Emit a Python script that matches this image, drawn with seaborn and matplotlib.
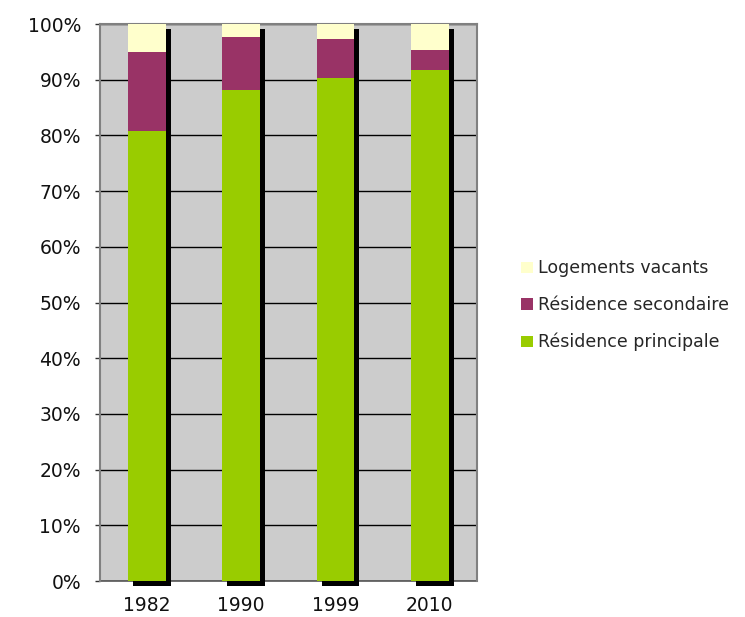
import numpy as np
import pandas as pd
import matplotlib
matplotlib.use("Agg")
import matplotlib.pyplot as plt
import matplotlib.transforms as mtransforms
from matplotlib.patches import Patch
import seaborn as sns

# Housing composition by census year (share of total dwellings, %)
years = ["1982", "1990", "1999", "2010"]
principale = [80.8, 88.1, 90.3, 91.7]
secondaire = [14.2, 9.5, 7.0, 3.6]
vacants = [5.0, 2.4, 2.7, 4.7]

labels = ["Logements vacants", "Résidence secondaire", "Résidence principale"]
colors = {"Résidence principale": "#99CC00",
          "Résidence secondaire": "#993366",
          "Logements vacants": "#FFFFCC"}

sns.set_theme(style="white")
plt.rcParams["font.family"] = ["DejaVu Sans"]

df = pd.DataFrame({"annee": years,
                   "principale": principale,
                   "secondaire": secondaire,
                   "vacants": vacants})
df["cum_sec"] = df["principale"] + df["secondaire"]
df["total"] = df["cum_sec"] + df["vacants"]

fig = plt.figure(figsize=(7.45, 6.17), dpi=100)
ax = fig.add_axes([0.134, 0.0583, 0.506, 0.9027])
ax.set_facecolor("#CCCCCC")

bw = 0.4
# drop shadow behind each stacked column
shadow_tr = mtransforms.offset_copy(ax.transData, fig=fig, x=5, y=-5, units="dots")
sns.barplot(data=df, x="annee", y="total", color="black", width=bw,
            saturation=1, ax=ax, linewidth=0, zorder=2)
for p in ax.patches:
    p.set_transform(shadow_tr)
    p.set_clip_on(False)

sns.barplot(data=df, x="annee", y="total", color=colors["Logements vacants"],
            width=bw, saturation=1, ax=ax, linewidth=0, zorder=3)
sns.barplot(data=df, x="annee", y="cum_sec", color=colors["Résidence secondaire"],
            width=bw, saturation=1, ax=ax, linewidth=0, zorder=4)
sns.barplot(data=df, x="annee", y="principale", color=colors["Résidence principale"],
            width=bw, saturation=1, ax=ax, linewidth=0, zorder=5)

ax.set_xlim(-0.5, 3.5)
ax.set_ylim(0, 100)
ax.set_xlabel("")
ax.set_ylabel("")

yt = np.arange(0, 101, 10)
ax.set_yticks(yt)
ax.set_yticklabels([f"{v}%" for v in yt], fontsize=13.5, color="#111111")
ax.yaxis.grid(True, color="black", linewidth=1.0)
ax.set_axisbelow(True)

ax.set_xticks(np.arange(4))
ax.set_xticklabels(years, fontsize=13.5, color="#111111")
ax.set_xticks(np.arange(-0.5, 4.0, 1.0), minor=True)
ax.tick_params(axis="x", which="major", length=0, pad=11)
ax.tick_params(axis="x", which="minor", length=3.6, width=1, color="#555555", direction="out")
ax.tick_params(axis="y", length=3.6, width=1, color="#333333", direction="out", left=True, pad=10)

for side in ["left", "top", "right"]:
    ax.spines[side].set_color("#808080")
    ax.spines[side].set_linewidth(1.5)
ax.spines["bottom"].set_color("#555555")
ax.spines["bottom"].set_linewidth(1.2)
ax.spines["bottom"].set_zorder(1)

handles = [Patch(facecolor=colors[l], edgecolor="none") for l in labels]
leg = fig.legend(handles, labels, loc="center left", bbox_to_anchor=(0.679, 0.505),
                 frameon=False, fontsize=12.5, handlelength=0.65, handleheight=0.65,
                 handletextpad=0.3, labelspacing=1.08)

fig.savefig("out.png", dpi=100)
